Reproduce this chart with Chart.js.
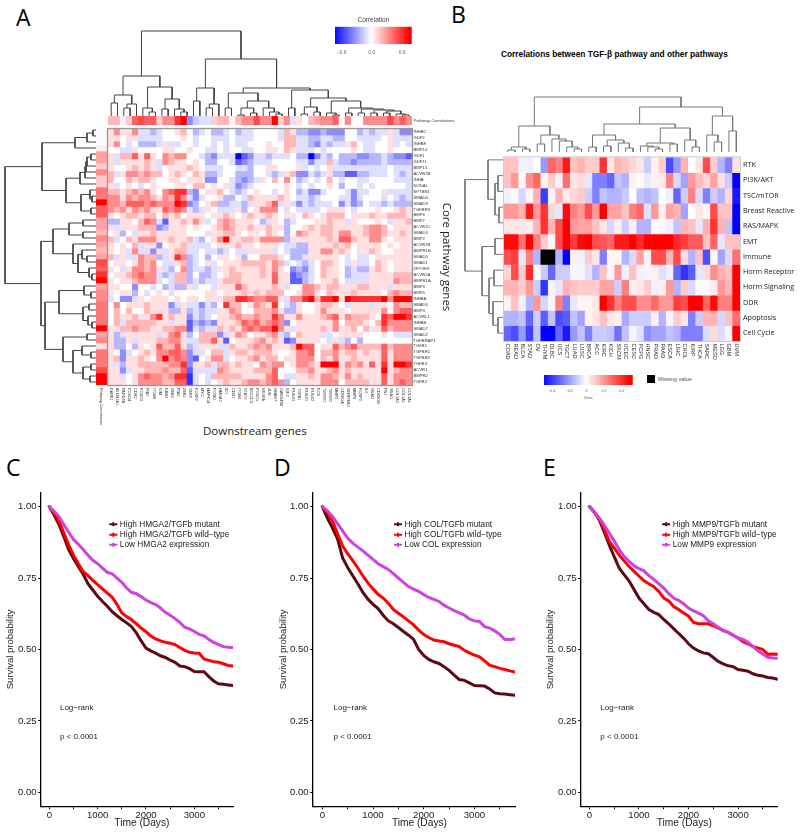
<!DOCTYPE html>
<html>
<head>
<meta charset="utf-8">
<title>TGF-beta figure</title>
<script src="https://cdn.jsdelivr.net/npm/chart.js"></script>
<style>
  html, body { margin: 0; background: #fff; }
  #page { position: relative; width: 800px; height: 832px; overflow: hidden; }
  canvas { position: absolute; display: block; }
  .txt { position: absolute; white-space: nowrap; color: #000; }
  .letter { font-family: "Open Sans", sans-serif; font-size: 23px; line-height: 23px; }
</style>
</head>
<body>
<div id="page">
  <div class="txt letter" style="left:16px;top:6px">A</div>
  <div class="txt letter" style="left:451px;top:3px">B</div>
  <div class="txt letter" style="left:6px;top:456px">C</div>
  <div class="txt letter" style="left:274px;top:456px">D</div>
  <div class="txt letter" style="left:543px;top:456px">E</div>
  <div class="txt" style="left:413.5px;top:117.5px;font:4.3px 'Liberation Sans';color:#333">Pathway Correlations</div>
  <div class="txt" style="left:203px;top:423px;font:11.5px 'Open Sans';color:#222">Downstream genes</div>
  <div class="txt" style="left:501px;top:49px;font:bold 8.3px 'Liberation Sans'">Correlations between TGF-β pathway and other pathways</div>
  <div style="position:absolute;left:647px;top:375px;width:8px;height:8px;background:#000"></div>
  <div class="txt" style="left:658px;top:375.5px;font:5.6px 'Liberation Sans';color:#555">Missing value</div>

  <canvas id="aLegend" width="90" height="42" style="left:330px;top:13.5px"></canvas>
  <canvas id="aTopTree" width="304" height="91" style="left:108px;top:25px"></canvas>
  <canvas id="aTopStrip" width="304" height="9" style="left:108px;top:116px"></canvas>
  <canvas id="aLeftTree" width="96" height="258" style="left:0;top:127px"></canvas>
  <canvas id="aLeftStrip" width="11" height="306" style="left:96px;top:127px"></canvas>
  <canvas id="aHeat" width="347" height="313" style="left:106px;top:125px"></canvas>

  <canvas id="bTopTree" width="236" height="56" style="left:504px;top:96px"></canvas>
  <canvas id="bLeftTree" width="40" height="189" style="left:464px;top:152px"></canvas>
  <canvas id="bHeat" width="298" height="216" style="left:502px;top:150px"></canvas>
  <canvas id="bLegend" width="100" height="32" style="left:540px;top:370px"></canvas>

  <canvas id="survC" width="270" height="347" style="left:0;top:485px"></canvas>
  <canvas id="survD" width="260" height="347" style="left:270px;top:485px"></canvas>
  <canvas id="survE" width="270" height="347" style="left:530px;top:485px"></canvas>
</div>

<script>
// Panel A labels
const aRowLabels = ["INHBC","GDF2","INHBE","BMP10","GDF1","GDF11","BMP15","ACVR2B","INHA","NODAL","SPTBN1","SMAD4","SMAD9","TGFBR3","BMP6","BMP7","ACVR1C","SMAD3","BMP2","ACVR1B","BMPR1B","SMAD5","SMAD1","ZFYVE9","ACVR2A","BMPR1A","BMP3","BMP5","INHBA","SMAD6","BMP4","ACVRL1","INHBB","SMAD7","SMAD2","TGFBRAP1","TGFB1","TGFBR1","TGFBR2","TGFB3","ACVR1","BMPR2","TGFB2"];
const aColLabels = ["DAPK1","ALDH1A1","PARD6A","FOXO4","CDH2","FOXO3","PIA1","ITGB8","VIM","DAB2","ZEB2","PIA2","ZEB1","TERT","FOXP2","MYC","MAPK14","FOXK1","HMGA2","ID1","CDH1","ITGB6","STAT3","BCL2L11","FOXO1","VEGFA","JUN","SMAD7","GADD45B","IGF2","RUNX3","TGFB1","RUNX1","RUNX2","FOS","TWIST1","TWIST2","MMP2","CDKN1A","SERPINE1","MMP9","FOXP3","IL6","SNAI2","CDKN1B","FN1","SNAI1","COL1A2","COL1A1","COL3A1"];

// Panel A values, one unit = 0.125 correlation
const aStripTop = [2,2,-.5,1.5,4,4.5,4,4,1.5,3,3,5,6,-3,-1.5,-1,-1,1.5,2,2,.5,2,3,3,4.5,3,3,6,1.5,3,-1,1,0,2,2.5,3,3,4,.3,3,.2,0,3,3,3,3,4.5,3,4,3];
const aStripLeft = [-.2,-.2,-.2,.5,2.5,2.5,1.5,3,1.5,1.5,3.5,3.5,6,4,4,2.5,2.5,2,3,2.5,2,2.5,4.5,4,5,6,2.5,3,3,3.5,3.5,3.5,3.5,6,2.5,3,1,3.5,3.5,3.5,4.5,6,6];
const aValues = [
  [1,3,1,1,3,-1,-1,-2,-1,0,0,1,2,0,-2,-1,0,-2,-2,-1,0,-2,-1,-1,0,0,0,0,-1,2,1,-2,-2,-3,-3,-2,-3,-3,-3,0,0,-2,-1,-2,-1,-1,1,-1,-3,-3],
  [1,1,0,1,1,-1,-1,-1,-1,0,0,0,1,0,-1,0,0,-1,-1,-1,0,-1,-1,-1,0,0,0,0,-1,2,2,-1,-1,-2,-2,-1,-1,-2,-2,0,0,-1,-1,-1,-1,0,1,-1,-1,-1],
  [1,3,0,-1,0,-2,-2,-2,-1,1,-1,-1,0,0,-1,0,0,-1,0,-1,0,-1,-1,0,0,0,1,0,0,2,2,-1,-1,-2,-3,-1,-2,-1,-1,1,2,0,-1,-1,0,0,1,-1,0,-1],
  [0,0,-1,-1,1,0,0,0,0,1,1,0,0,1,0,0,-1,-1,0,-1,0,0,-1,-1,0,0,1,1,0,2,1,-1,-1,-1,0,-1,0,0,0,0,1,0,-1,-1,0,0,1,0,0,0],
  [1,-1,2,2,4,1,4,1,0,3,2,3,3,0,0,-1,-2,-3,-1,-1,-1,-6,-4,-3,-1,-1,-2,-1,-1,-1,0,-2,-2,-6,-3,-1,-2,0,-2,-2,-2,-3,-3,-2,-2,-1,-2,-3,-3,-4],
  [1,-1,1,1,1,1,2,1,-1,3,2,1,1,0,1,0,-2,-2,0,0,-1,-4,-3,-2,-1,-1,-1,0,0,0,0,-1,-1,-3,-1,-1,2,-1,-2,-2,-3,-2,-2,-2,-2,-1,-2,-2,-2,-2],
  [1,0,0,1,2,1,2,1,-1,0,1,1,1,2,1,0,-1,-1,-1,0,0,-1,-1,-2,0,0,1,1,0,0,0,1,-1,0,-1,0,1,-1,-1,-1,-1,-1,-1,-1,-1,-1,0,-1,-1,-1],
  [2,-1,1,3,3,2,3,2,2,0,1,2,1,0,2,1,-2,-2,-1,0,0,-2,-2,-2,0,0,-1,-2,-1,1,2,-3,-3,-1,-2,-1,1,-2,-2,-4,-4,-2,-2,-1,-1,-1,0,-1,-2,-1],
  [2,0,0,2,1,2,2,1,0,0,1,1,0,1,1,1,-3,-3,0,0,-1,-2,-3,-2,-1,1,0,2,0,3,0,-2,-1,0,-1,0,2,0,-1,0,0,-1,-1,0,0,0,0,-1,-1,-1],
  [1,-1,0,1,0,-1,0,1,0,0,0,1,1,0,2,2,0,1,0,1,-1,-3,-2,-1,0,0,0,0,0,1,0,-1,0,-1,0,0,1,0,-2,0,0,-1,0,-1,0,0,0,0,0,-1],
  [2,2,1,2,3,2,3,1,0,3,4,5,5,-2,-3,0,1,1,2,0,-1,-2,-1,0,1,0,0,-1,0,1,0,-2,-1,-3,-3,-1,0,0,0,-1,-3,-1,-1,0,0,1,-1,-1,-1,-1],
  [3,3,1,3,2,3,3,2,1,3,2,5,3,-1,-3,-1,0,0,1,-2,-2,0,-1,2,1,1,1,1,2,1,0,-1,-1,-2,-1,0,0,0,-1,-1,-3,-1,0,0,0,-1,0,-1,-2,-1],
  [3,3,2,4,4,4,3,4,3,3,3,6,5,-3,-2,0,1,2,-2,-2,-1,-1,-2,-1,1,1,2,4,-1,1,-1,-3,-1,-2,-1,-1,-1,0,-3,-1,-3,-2,0,-1,-1,-2,-1,-2,-2,-2],
  [3,2,3,1,3,2,3,1,1,4,3,4,3,-1,-2,-1,1,0,-1,-1,-1,1,-2,0,1,3,3,3,0,-1,0,-1,-1,-1,-1,0,1,1,1,0,-1,0,0,0,1,0,0,1,2,1],
  [1,0,1,2,2,1,2,2,0,2,1,2,0,1,1,1,0,1,1,2,1,0,1,2,1,1,2,1,0,1,1,0,2,1,0,1,2,2,2,0,1,1,1,2,1,1,2,2,2,1],
  [-2,-2,1,1,0,2,4,3,-1,-4,1,1,2,1,3,1,-1,0,2,3,2,1,1,1,0,-2,-1,1,0,-2,-1,0,0,0,1,1,2,1,1,-1,1,0,0,0,1,0,-1,1,1,2],
  [1,-1,1,1,1,2,2,2,-3,-2,1,1,1,0,1,0,0,1,2,3,2,1,1,2,1,1,2,1,1,-2,0,0,1,2,1,2,2,1,1,1,1,1,2,3,3,2,0,1,1,1],
  [0,1,-2,0,-1,1,1,2,1,1,1,1,1,0,0,0,-1,1,1,2,2,1,0,1,1,0,2,1,0,-2,0,3,2,1,1,2,2,1,3,3,1,1,2,3,3,2,1,1,2,1],
  [2,-1,0,2,1,3,3,3,1,1,2,1,1,2,-1,-2,0,1,3,6,1,1,2,2,1,3,3,3,3,-2,1,1,1,1,1,1,2,1,4,4,2,1,1,3,3,1,0,1,1,1],
  [1,0,1,0,2,-1,1,1,-3,0,1,1,2,-1,-1,-1,-1,0,1,1,1,2,1,1,0,1,1,1,0,-1,-1,-2,-2,1,1,1,1,2,1,2,0,1,1,1,1,0,1,0,1,1],
  [1,0,1,-1,3,-1,-1,-3,1,-1,1,2,2,-1,-1,0,-1,-1,-2,-1,0,-1,-1,1,1,1,1,-1,0,-1,-2,-2,-2,1,1,3,3,1,2,1,0,1,1,2,1,0,0,1,1,1],
  [2,-1,1,-1,-1,3,2,2,-2,-1,1,5,3,-2,-1,0,-2,0,1,1,0,1,-2,0,0,2,2,2,1,0,-2,-2,-1,1,1,1,1,1,0,-1,0,-1,-1,0,1,1,1,1,1,1],
  [0,1,1,0,1,3,2,3,0,-1,-1,1,2,-2,-1,0,1,-1,0,1,1,1,2,2,2,2,1,3,2,-1,0,-1,-2,-1,0,2,2,1,0,-1,1,-1,-1,0,2,1,0,1,1,1],
  [1,0,-1,1,3,3,2,3,1,-1,-2,0,3,-2,-1,-1,-2,-1,1,1,2,1,1,1,1,2,1,3,1,0,-3,-2,-3,-1,0,2,1,1,0,-2,-1,-2,-2,1,2,1,0,1,1,1],
  [0,1,1,2,3,4,3,3,-1,-2,-1,2,2,-2,0,-2,-2,-1,0,1,2,2,1,1,1,2,1,4,1,1,-4,-3,-2,-1,0,2,1,1,0,-2,-1,-1,-1,1,1,1,1,2,2,2],
  [1,0,1,1,2,3,3,3,-1,0,-1,2,2,-2,-1,-2,-1,-1,1,2,2,2,1,1,1,1,1,4,1,1,-4,-4,-2,-1,0,1,1,2,0,-1,-1,-1,-1,1,1,1,1,3,2,2],
  [1,1,0,0,-3,0,0,-1,0,-2,-1,-2,-2,1,-1,0,0,-1,1,1,1,4,2,1,1,1,1,2,1,-1,0,0,3,3,2,1,2,2,1,1,1,2,2,1,1,1,-1,1,1,1],
  [1,0,1,1,-2,0,-1,0,1,0,-1,0,0,0,0,0,1,1,0,1,1,1,2,1,2,1,2,2,2,0,0,1,3,3,1,0,2,1,1,1,2,1,1,1,1,0,2,3,2,2],
  [-1,0,-3,-3,-1,1,0,1,1,1,0,1,0,1,1,0,1,1,1,2,2,5,5,4,3,3,4,4,1,-1,3,3,5,6,2,5,5,6,1,6,5,5,5,5,5,6,3,6,6,6],
  [0,3,0,1,1,1,2,1,1,1,-3,-1,1,-1,-1,-3,-1,-2,0,5,2,2,0,1,3,2,1,5,0,-1,-2,1,0,0,1,2,2,1,0,-1,1,1,1,-1,1,1,0,3,2,2],
  [0,2,0,2,0,0,2,1,1,1,-2,-2,1,-2,-1,-2,-1,-1,1,1,3,2,0,0,2,2,2,3,1,-2,-2,1,0,0,1,3,1,1,1,0,1,1,1,1,1,3,0,3,4,4],
  [0,2,1,1,2,1,1,3,5,1,2,1,1,-3,-1,-2,-1,0,1,1,2,3,2,2,3,2,2,5,3,1,1,3,1,1,1,2,3,4,1,3,2,2,2,1,0,5,4,6,6,5],
  [0,2,-1,2,2,2,2,2,1,1,-1,1,1,-4,-2,-3,-2,-3,1,1,1,2,4,3,4,2,3,4,3,-3,0,1,1,1,1,1,1,3,0,2,2,2,1,0,2,5,3,3,3,3],
  [1,1,2,2,3,2,2,1,1,2,2,3,3,-4,-1,-2,-1,-1,2,1,2,1,3,4,3,4,4,6,3,1,-1,1,1,1,1,2,1,3,1,1,2,0,2,1,1,4,2,3,3,3],
  [1,-2,-1,1,1,1,1,1,-1,1,3,4,1,-2,0,2,2,2,-3,-1,1,3,2,0,1,1,2,3,-1,-2,0,2,1,1,1,-1,-1,0,1,1,1,1,0,0,0,1,0,-1,-1,-1],
  [1,-2,-2,1,-1,1,1,1,2,2,3,3,1,-1,-1,2,2,4,1,-4,0,1,1,1,2,3,1,2,1,-4,-3,1,1,1,1,0,-1,1,-1,-2,0,-2,0,0,0,0,0,0,0,0],
  [1,-2,-2,0,-2,1,0,1,4,2,2,4,1,-2,-1,1,1,1,-1,-1,2,1,1,2,3,2,3,1,1,1,2,6,4,4,0,1,1,4,2,3,4,2,2,2,2,4,2,3,3,3],
  [1,0,-3,-1,0,1,2,1,3,3,4,4,3,-3,-1,-1,0,2,2,-1,1,2,2,1,2,2,2,1,0,0,1,3,3,4,0,2,2,3,1,2,2,1,2,1,1,4,1,3,3,3],
  [1,2,-3,1,1,2,1,0,3,6,3,4,3,-3,-4,0,1,3,3,-1,0,1,1,2,3,1,2,2,0,1,1,3,3,3,0,2,1,3,1,1,2,1,1,1,1,4,1,3,3,3],
  [1,-1,-2,1,1,2,2,2,2,2,3,3,5,-3,1,1,2,-1,2,2,1,2,1,1,0,3,2,3,3,0,1,3,3,2,1,6,6,6,1,3,2,3,1,4,1,5,1,6,6,5],
  [1,1,-3,-1,1,1,2,2,2,3,2,2,4,-4,-1,-1,-1,-1,3,2,1,1,1,1,2,2,2,4,0,0,0,2,2,3,1,1,2,3,1,2,1,1,1,1,1,6,1,2,3,3],
  [1,1,-1,0,1,3,4,3,3,2,3,5,5,-5,-1,0,-1,2,2,2,2,2,1,1,1,1,3,4,0,-1,-1,1,1,2,1,3,3,2,1,3,1,2,1,1,1,4,1,3,3,3],
  [1,1,1,0,1,3,3,3,3,2,2,4,4,-5,-1,0,-1,0,1,2,1,1,2,3,3,2,3,4,3,-2,0,1,1,1,1,3,3,3,0,2,2,2,2,1,1,4,1,3,4,3],
];

// Panel A dendrograms: [height, left, right], a 0 is the next leaf
const aTopTreeData = [85,
  [40,
    [21,[13,0,0],[12,[8,0,0],0]],
    [29,[8,0,[4,0,0]],[17,[7,0,0],[7,0,[4,0,0]]]]],
  [57,
    [28,[15,0,0],[12,[8,0,0],0]],
    [28,
      [23,[8,0,0],[15,[8,[1,0,0],[3,0,0]],[8,0,[4,0,[2,0,0]]]]],
      [26,[8,0,0],[18,[9,[2,0,0],[4,0,0]],
        [15,[3,0,[1,0,0]],[8,[3,0,0],[7,[3,0,0],[6,[3,0,0],[5,[3,0,0],[2,0,[1,0,0]]]]]]]]]]]];
const aLeftTreeData = [91,
  [54,
    [21,[9,[3,0,0],0],0],
    [30,[16,[11,[10,[9,[5,0,0],0],0],0],0],[15,[6,0,[4,0,0]],[5,0,0]]]],
  [55,
    [43,[27,[13,0,0],[13,0,0]],[23,0,[18,[14,0,[9,0,0]],[7,0,[4,0,0]]]]],
    [51,
      [37,[12,0,[5,0,0]],[13,[7,0,0],[8,0,[4,0,0]]]],
      [33,[9,0,0],[23,[14,0,[5,0,0]],[13,[5,0,0],[6,0,0]]]]]]];

// Panel B labels and values, in hundredths of a correlation
const bRowLabels = ["RTK","PI3K/AKT","TSC/mTOR","Breast Reactive","RAS/MAPK","EMT","Immune","Horm Receptor","Horm Signaling","DDR","Apoptosis","Cell Cycle"];
const bColLabels = ["COAD","READ","BLCA","STAD","OV","THYM","DLBC","UCS","TGCT","LUAD","LUSC","BRCA","ACC","KIRC","KICH","SKCM","UCEC","CESC","PCPG","HNSC","PRAD","PAAD","ESCA","LIHC","CHOL","KIRP","THCA","SARC","MESO","LGG","GBM","UVM"];
const bValues = [
  [12,12,-3,-3,0,-20,30,25,45,12,15,10,10,40,5,15,12,8,5,-10,3,10,-35,-20,15,0,5,35,10,-15,-25,6],
  [12,20,-1,22,30,2,10,-3,28,5,7,-5,-25,-25,-30,-12,-15,3,1,-4,3,4,25,-7,-18,20,13,8,18,6,-10,-50],
  [-3,-1,-8,2,15,-38,-2,15,4,8,10,-10,-25,-12,-15,-15,-10,0,-12,-15,-12,0,-3,-30,-10,25,-7,-25,-10,-15,8,-45],
  [20,20,15,45,20,40,8,-5,48,25,20,35,20,50,18,18,12,25,30,-6,20,3,18,15,-18,0,5,2,35,12,12,-50],
  [5,5,5,4,15,40,15,35,50,20,18,18,12,5,-8,3,-10,3,-15,-15,0,2,-3,-12,15,12,-5,15,40,15,-12,-50],
  [48,48,28,50,25,10,2,35,50,38,48,50,35,33,30,45,45,50,42,50,50,50,50,42,38,32,32,12,30,-5,12,12],
  [35,38,-5,25,-15,null,null,-15,-50,3,-3,10,5,-25,2,2,-15,-7,18,3,35,35,15,35,7,-15,12,-35,1,-18,-7,28],
  [8,35,10,42,0,-10,-30,-10,-10,-2,-2,-6,-15,12,-2,20,-3,12,-3,-2,3,-6,-3,-30,-40,-32,-5,7,22,15,12,50],
  [15,15,10,20,-10,-40,-2,-5,15,12,10,10,10,18,18,-10,25,3,5,10,-3,3,20,-15,10,-7,-1,-1,4,20,15,50],
  [3,12,-3,-15,20,-8,-2,25,-25,-5,2,2,5,50,40,25,35,35,22,22,30,20,20,38,35,50,50,30,48,25,25,50],
  [-15,-15,-12,-30,-10,-32,-12,-35,-32,-12,-18,3,5,12,5,3,-17,-10,-10,-10,3,-15,-2,10,5,-25,-10,15,15,-8,12,28],
  [-30,-35,-20,-38,-12,-50,-50,-30,-45,-20,-12,-25,-10,-10,-12,-28,-12,-2,-6,-22,-18,-18,-12,-15,-25,-25,-25,-7,7,-7,-2,50],
];
const bTopTreeData = [55,
  [26,[5,[2,0,0],[3,0,0]],[17,[8,0,0],[13,0,[11,0,[5,0,[3,0,0]]]]]],
  [45,
    [28,
      [17,[5,0,0],[12,[6,0,0],[9,0,[4,0,0]]]],
      [24,[9,[6,0,[5,0,[3,0,0]]],[8,0,0]],[12,0,[5,0,0]]]],
    [36,[17,0,[10,0,0]],[21,0,0]]]];
const bLeftTreeData = [39,
  [16,0,[9,[6,0,0],[5,0,0]]],
  [22,[9,0,0],[15,[10,0,0],[11,0,[6,0,0]]]]];

// Survival curves, read every 100 days
const days = [0,100,200,300,400,500,600,700,800,900,1000,1100,1200,1300,1400,1500,1600,1700,1800,1900,2000,2100,2200,2300,2400,2500,2600,2700,2800,2900,3000,3100,3200,3300,3400,3500,3600,3700,3800];
const cMutant = [1,.97,.937,.895,.849,.818,.79,.763,.73,.708,.686,.668,.651,.632,.618,.605,.593,.58,.558,.53,.505,.495,.487,.478,.472,.463,.455,.442,.44,.433,.423,.422,.422,.405,.39,.38,.378,.376,.374];
const cWild = [1,.978,.95,.908,.866,.83,.80,.773,.758,.742,.727,.712,.697,.683,.658,.628,.615,.604,.59,.575,.562,.547,.537,.53,.525,.522,.517,.507,.497,.49,.488,.487,.467,.462,.457,.455,.45,.444,.442];
const cLow = [1,.983,.965,.937,.91,.885,.868,.85,.83,.812,.80,.785,.77,.765,.75,.735,.715,.70,.695,.685,.673,.664,.657,.645,.63,.62,.608,.595,.578,.572,.563,.553,.548,.535,.525,.517,.51,.508,.507];
const dMutant = [1,.96,.925,.887,.82,.787,.758,.73,.70,.676,.658,.643,.62,.60,.59,.577,.563,.55,.535,.50,.479,.465,.457,.451,.44,.427,.41,.395,.392,.383,.374,.373,.372,.362,.348,.345,.344,.342,.34];
const dWild = [1,.98,.95,.905,.862,.835,.811,.785,.757,.733,.712,.693,.68,.662,.64,.627,.614,.60,.586,.568,.552,.542,.533,.53,.527,.52,.515,.51,.497,.488,.48,.474,.46,.445,.44,.434,.43,.425,.421];
const dLow = [1,.985,.965,.94,.915,.89,.872,.858,.845,.83,.815,.80,.79,.78,.765,.75,.735,.72,.711,.703,.692,.682,.675,.668,.655,.645,.636,.628,.62,.607,.60,.598,.58,.575,.565,.553,.535,.535,.537];
const eMutant = [1,.98,.953,.91,.866,.825,.785,.762,.74,.71,.68,.66,.64,.63,.622,.605,.59,.573,.556,.54,.52,.505,.495,.488,.485,.472,.458,.45,.443,.44,.43,.427,.424,.415,.41,.407,.402,.40,.396];
const eWild = [1,.98,.955,.92,.878,.855,.83,.81,.79,.773,.757,.74,.73,.72,.703,.68,.67,.65,.64,.628,.617,.595,.59,.59,.59,.583,.575,.567,.56,.55,.54,.527,.52,.51,.505,.50,.483,.484,.483];
const eLow = [1,.98,.96,.935,.907,.88,.85,.825,.808,.793,.783,.775,.758,.745,.73,.715,.695,.68,.672,.66,.645,.635,.627,.618,.60,.59,.578,.565,.56,.55,.54,.535,.525,.51,.495,.483,.473,.47,.469];
const timeTicks = [0,500,1000,1500,2000,2500,3000,3500];
const survTicks = [0,0.25,0.5,0.75,1];

const aLegendTicks = [-0.6,0,0.6];
const bLegendTicks = [-0.4,-0.2,0,0.2,0.4];

Chart.defaults.animation = false;
Chart.defaults.responsive = false;
Chart.defaults.plugins.legend.display = false;
Chart.defaults.plugins.tooltip.enabled = false;
Chart.defaults.font.family = "'Liberation Sans'";

// blue - white - red, t from -1 to 1
function ramp(t) {
    t = Math.max(-1, Math.min(1, t));
    const c = Math.round(255 * (1 - Math.abs(t)));
    return t >= 0 ? `rgb(255,${c},${c})` : `rgb(${c},${c},255)`;
}
const colorA = v => ramp(Math.sign(v) * Math.pow(Math.abs(v) / 6, 1.15));
const colorB = v => v === null ? "#000" : ramp(v / 50);

// rotated column labels, clockwise like the original figure
const rotLabels = {
    id: "rotLabels",
    afterDraw(chart, args, opts) {
        if (!opts.size) return;
        const ctx = chart.ctx, x = chart.scales.x;
        ctx.save();
        ctx.font = `${opts.size}px 'Liberation Sans'`;
        ctx.fillStyle = opts.color;
        ctx.textAlign = "left";
        ctx.textBaseline = "middle";
        chart.data.labels.forEach((label, i) => {
            ctx.save();
            ctx.translate(x.getPixelForValue(i), chart.chartArea.bottom + opts.gap);
            ctx.rotate(Math.PI / 2);
            ctx.fillText(label, 0, 0);
            ctx.restore();
        });
        ctx.restore();
    },
};

const frame = {
    id: "frame",
    afterDraw(chart, args, opts) {
        if (!opts.color) return;
        const a = chart.chartArea;
        chart.ctx.save();
        chart.ctx.strokeStyle = opts.color;
        chart.ctx.lineWidth = opts.width;
        chart.ctx.strokeRect(a.left - 0.5, a.top - 0.5, a.right - a.left + 1, a.bottom - a.top + 1);
        chart.ctx.restore();
    },
};

// Heatmap: one floating bar per cell, one dataset per row
function heatmap(id, values, cols, rows, color, opt) {
    const config = {
        type: "bar",
        data: {
            labels: cols,
            datasets: values.map((row, r) => ({
                data: row.map(() => [r, r + 1]),
                backgroundColor: row.map(color),
                borderWidth: 0,
                barPercentage: 1,
                categoryPercentage: 1,
                grouped: false,
            })),
        },
        options: {
            layout: { padding: opt.padding || 0 },
            plugins: {
                rotLabels: opt.rot || {},
                frame: opt.frame || {},
            },
            scales: {
                x: {
                    display: opt.xHeight > 0,
                    grid: { display: false, drawTicks: false },
                    border: { display: false },
                    ticks: { display: false, autoSkip: false },
                    afterFit: s => { s.height = opt.xHeight; },
                },
                y: {
                    display: opt.yWidth > 0,
                    position: "right",
                    reverse: true,
                    min: 0,
                    max: values.length,
                    grid: { display: false, drawTicks: false },
                    border: { display: false },
                    title: opt.yTitle || { display: false },
                    afterBuildTicks: s => { s.ticks = rows.map((_, i) => ({ value: i + 0.5 })); },
                    afterFit: s => { s.width = opt.yWidth; },
                    ticks: {
                        autoSkip: false,
                        padding: opt.yPad,
                        color: opt.yColor,
                        font: { size: opt.ySize, family: opt.yFamily },
                        callback: v => rows[Math.floor(v)],
                    },
                },
            },
        },
        plugins: [rotLabels, frame],
    };
    return new Chart(document.getElementById(id), config);
}

// Dendrogram: one dataset per merge, each a U through the linear scales
function dendrogram(id, tree, orient, maxH, color, lineWidth) {
    const datasets = [];
    let leaf = 0;
    function walk(node) {
        if (node === 0) return { pos: leaf++ + 0.5, h: 0 };
        const a = walk(node[1]), b = walk(node[2]), h = node[0];
        const pts = [[a.pos, a.h], [a.pos, h], [b.pos, h], [b.pos, b.h]];
        datasets.push({
            data: pts.map(p => orient === "top" ? { x: p[0], y: p[1] } : { x: p[1], y: p[0] }),
            showLine: true,
            pointRadius: 0,
            borderColor: color,
            borderWidth: lineWidth,
            clip: false,
        });
        return { pos: (a.pos + b.pos) / 2, h: h };
    }
    walk(tree);
    const hidden = { display: false };
    const posAxis = { ...hidden, min: 0, max: leaf };
    const top = orient === "top";
    return new Chart(document.getElementById(id), {
        type: "scatter",
        data: { datasets },
        options: {
            scales: {
                x: top ? posAxis : { ...hidden, min: 0, max: maxH, reverse: true },
                y: top ? { ...hidden, min: 0, max: maxH } : { ...posAxis, reverse: true },
            },
        },
    });
}

// Colour key: thin bars along a linear axis
function colorKey(id, lo, hi, step, sat, thick, ticks, opt) {
    const steps = [];
    for (let v = lo; v <= hi + 1e-9; v += step) steps.push(v);
    return new Chart(document.getElementById(id), {
        type: "bar",
        data: {
            datasets: [{
                data: steps.map(v => ({ x: v, y: 1 })),
                backgroundColor: steps.map(v => ramp(v / sat)),
                barThickness: thick,
                borderWidth: 0,
            }],
        },
        options: {
            layout: { padding: opt.padding },
            plugins: {
                title: opt.title || { display: false },
            },
            scales: {
                x: {
                    type: "linear",
                    offset: false,
                    min: lo,
                    max: hi,
                    grid: { display: false, drawTicks: false },
                    border: { display: false },
                    title: opt.xTitle || { display: false },
                    afterBuildTicks: s => { s.ticks = ticks.map(v => ({ value: v })); },
                    afterFit: s => { s.height = opt.xHeight; },
                    ticks: {
                        autoSkip: false,
                        maxRotation: 0,
                        padding: opt.tickPad,
                        color: "#666",
                        font: { size: opt.tickSize },
                        callback: opt.tickText,
                    },
                },
                y: { display: false, min: 0, max: 1 },
            },
        },
    });
}

// Survival chart legend and notes, placed through the scales
const kmNotes = {
    id: "kmNotes",
    afterDraw(chart, args, opts) {
        const ctx = chart.ctx, x = chart.scales.x, y = chart.scales.y;
        ctx.save();
        ctx.textBaseline = "middle";
        ctx.font = "8.3px 'Liberation Sans'";
        chart.data.datasets.forEach((ds, i) => {
            const px = x.getPixelForValue(opts.legendX);
            const py = y.getPixelForValue(opts.legendY[i]);
            ctx.strokeStyle = ds.borderColor;
            ctx.lineWidth = 2;
            ctx.beginPath();
            ctx.moveTo(px, py);
            ctx.lineTo(px + 8, py);
            ctx.moveTo(px + 4, py - 2);
            ctx.lineTo(px + 4, py + 2);
            ctx.stroke();
            ctx.fillStyle = "#222";
            ctx.textAlign = "left";
            ctx.fillText(ds.label, px + 10.5, py);
        });
        ctx.font = "8px 'Liberation Sans'";
        ctx.fillText("Log\u2212rank", x.getPixelForValue(220), y.getPixelForValue(0.296));
        ctx.fillText("p < 0.0001", x.getPixelForValue(220), y.getPixelForValue(0.195));
        ctx.font = "10.2px 'Liberation Sans'";
        ctx.textAlign = "center";
        ctx.fillText("Time (Days)", x.getPixelForValue(1915), 338);
        ctx.restore();
    },
};

function survival(id, names, mutant, wild, low, opt) {
    const series = [
        { label: names[0], values: mutant, color: "#5a0a12", order: 3 },
        { label: names[1], values: wild, color: "#ff0000", order: 2 },
        { label: names[2], values: low, color: "#cc44dd", order: 1 },
    ];
    return new Chart(document.getElementById(id), {
        type: "scatter",
        data: {
            datasets: series.map(s => ({
                label: s.label,
                data: days.map((d, i) => ({ x: d, y: s.values[i] })),
                showLine: true,
                pointRadius: 0,
                borderColor: s.color,
                borderWidth: 3,
                order: s.order,
                borderCapStyle: "round",
            })),
        },
        options: {
            layout: { padding: { left: opt.left, right: opt.right, top: 6, bottom: 3 } },
            plugins: {
                kmNotes: { legendX: opt.legendX, legendY: [0.938, 0.901, 0.866] },
            },
            scales: {
                x: {
                    type: "linear",
                    min: opt.xMin,
                    max: 3800,
                    border: { display: true, color: "#000", width: 1.3 },
                    grid: { drawOnChartArea: false, color: "#000", tickColor: "#000", tickLength: 2.5 },
                    afterBuildTicks: s => { s.ticks = timeTicks.map(v => ({ value: v })); },
                    afterFit: s => { s.height = 22.3; },
                    ticks: {
                        autoSkip: false,
                        maxRotation: 0,
                        padding: 0,
                        color: "#222",
                        font: { size: 9.6 },
                        callback: v => v % 1000 === 0 ? v : "",
                    },
                },
                y: {
                    min: -0.05,
                    max: 1.05,
                    border: { display: true, color: "#000", width: 1.3 },
                    grid: { drawOnChartArea: false, color: "#000", tickColor: "#000", tickLength: 2.5 },
                    afterBuildTicks: s => { s.ticks = survTicks.map(v => ({ value: v })); },
                    afterFit: s => { s.width = opt.yWidth; },
                    title: { display: true, text: "Survival probability", color: "#222", font: { size: 9.5 }, padding: 0 },
                    ticks: {
                        autoSkip: false,
                        padding: 1.5,
                        color: "#222",
                        font: { size: 9.6 },
                        callback: v => v.toFixed(2),
                    },
                },
            },
        },
        plugins: [kmNotes],
    });
}

// Panel A
colorKey("aLegend", -0.73, 0.79, 0.04, 0.75, 2.5, aLegendTicks, {
    padding: { left: 5, right: 8.3 },
    xHeight: 12,
    tickPad: 6,
    tickSize: 5,
    tickText: v => v.toFixed(1).replace("-", "\u2212"),
    title: { display: true, text: "Correlation", color: "#444", font: { size: 6.5, weight: "normal" }, padding: { top: 2, bottom: 3 } },
});
dendrogram("aTopTree", aTopTreeData, "top", 91, "#444", 1);
dendrogram("aLeftTree", aLeftTreeData, "left", 96, "#444", 1);
heatmap("aTopStrip", [aStripTop], aColLabels, ["Pathway Correlations"], colorA, {
    xHeight: 0, yWidth: 0,
});
heatmap("aLeftStrip", aStripLeft.map(v => [v]), ["Pathway Correlations"], aRowLabels, colorA, {
    xHeight: 48, yWidth: 0, rot: { size: 3.9, color: "#333", gap: 3 },
});
heatmap("aHeat", aValues, aColLabels, aRowLabels, colorA, {
    padding: { left: 2, top: 2 },
    xHeight: 53,
    yWidth: 41,
    yPad: 1.5,
    ySize: 4.2,
    yColor: "#333",
    rot: { size: 3.9, color: "#333", gap: 3 },
    frame: { color: "#999", width: 1.3 },
    yTitle: { display: true, text: "Core pathway genes", color: "#222", font: { size: 11.5, family: "'Open Sans'" }, padding: 0 },
});

// Panel B
dendrogram("bTopTree", bTopTreeData, "top", 56, "#777", 1);
dendrogram("bLeftTree", bLeftTreeData, "left", 40, "#777", 1);
heatmap("bHeat", bValues, bColLabels, bRowLabels, colorB, {
    padding: { left: 2, top: 2 },
    xHeight: 25,
    yWidth: 60,
    yPad: 3,
    ySize: 7.2,
    yFamily: "'Open Sans'",
    yColor: "#222",
    rot: { size: 5.6, color: "#333", gap: 2.5 },
    frame: { color: "#ccc", width: 1 },
});
colorKey("bLegend", -0.49, 0.53, 0.02, 0.5, 2.2, bLegendTicks, {
    padding: { left: 4, right: 7.3, top: 5, bottom: 2 },
    xHeight: 15,
    tickPad: 4,
    tickSize: 3.7,
    tickText: v => v === 0 ? "0" : v.toFixed(1).replace("-", "\u2212"),
    xTitle: { display: true, text: "Value", color: "#666", font: { size: 3.5 }, padding: 0 },
});

// Panels C, D, E
survival("survC", ["High HMGA2/TGFb mutant", "High HMGA2/TGFb wild\u2212type", "Low HMGA2 expression"], cMutant, cWild, cLow,
    { left: 5, right: 37, yWidth: 35.7, xMin: -178, legendX: 1242 });
survival("survD", ["High COL/TGFb mutant", "High COL/TGFb wild\u2212type", "Low COL expression"], dMutant, dWild, dLow,
    { left: 7.3, right: 15, yWidth: 35.4, xMin: -190, legendX: 1414 });
survival("survE", ["High MMP9/TGFb mutant", "High MMP9/TGFb wild\u2212type", "Low MMP9 expression"], eMutant, eWild, eLow,
    { left: 14.7, right: 22.3, yWidth: 36, xMin: -176, legendX: 1468 });
</script>
</body>
</html>
